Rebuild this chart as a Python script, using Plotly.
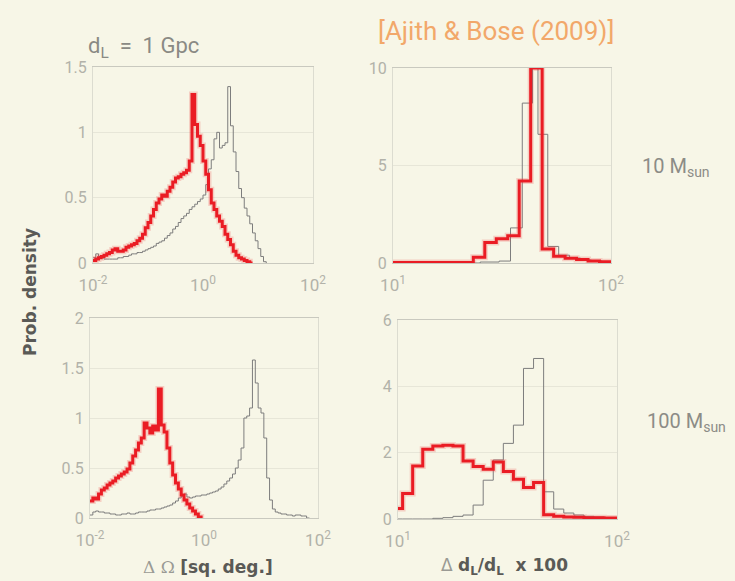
import plotly.graph_objects as go

# ---------------- data: histogram bin edges (log10 of x) and heights ----------------
# Top-left: sky-position error, 10 Msun
sky10_edges_start = -2.0
sky10_red = [0.02, 0.03, 0.04, 0.05, 0.06, 0.07, 0.08, 0.10, 0.11, 0.09,
             0.09, 0.10, 0.12, 0.13, 0.14, 0.15, 0.17, 0.19, 0.22, 0.27,
             0.31, 0.36, 0.41, 0.46, 0.49, 0.52, 0.51, 0.55, 0.58, 0.62,
             0.65, 0.66, 0.68, 0.69, 0.71, 0.78, 1.29, 1.06, 0.97, 0.90,
             0.78, 0.68, 0.56, 0.46, 0.41, 0.36, 0.32, 0.28, 0.22, 0.18,
             0.14, 0.09, 0.06, 0.04, 0.03, 0.02, 0.01, 0.0]
sky10_gray = [0.04, 0.07, 0.05, 0.04, 0.03, 0.03, 0.03, 0.03, 0.03, 0.04,
              0.04, 0.05, 0.05, 0.06, 0.07, 0.07, 0.08, 0.08, 0.09, 0.10,
              0.11, 0.12, 0.13, 0.15, 0.16, 0.17, 0.19, 0.21, 0.23, 0.26,
              0.28, 0.31, 0.34, 0.36, 0.38, 0.41, 0.43, 0.45, 0.47, 0.49,
              0.52, 0.60, 0.72, 0.79, 0.95, 1.00, 0.88, 0.90, 0.92, 1.35,
              1.05, 0.85, 0.70, 0.57, 0.50, 0.42, 0.36, 0.30, 0.23, 0.17,
              0.11, 0.05, 0.01]

# Top-right: distance error, 10 Msun
dist10_red_edges = [1.0, 1.0526, 1.1053, 1.1579, 1.2105, 1.2632, 1.3158, 1.3684,
                    1.4211, 1.4737, 1.5263, 1.5789, 1.6316, 1.6842, 1.7368,
                    1.7895, 1.8421, 1.8947, 1.9474, 2.0]
dist10_red = [0.02, 0.02, 0.02, 0.02, 0.02, 0.02, 0.02, 0.30, 1.05, 1.25,
              1.40, 4.20, 10.0, 0.72, 0.34, 0.25, 0.18, 0.10, 0.06]
dist10_gray_edges = [1.0, 1.40, 1.487, 1.539, 1.593, 1.640, 1.665, 1.710, 1.760,
                     1.810, 1.860, 1.910, 1.960, 2.0]
dist10_gray = [0.0, 0.05, 0.10, 1.8, 8.2, 10.0, 6.6, 0.85, 0.40, 0.25, 0.15,
               0.10, 0.05]

# Bottom-left: sky-position error, 100 Msun
sky100_edges_start = -2.0
sky100_red = [0.17, 0.20, 0.19, 0.24, 0.28, 0.30, 0.33, 0.35, 0.37, 0.40,
              0.42, 0.44, 0.46, 0.49, 0.55, 0.62, 0.68, 0.75, 0.80, 0.95,
              0.90, 0.85, 0.92, 0.88, 1.29, 0.93, 0.86, 0.70, 0.55, 0.43,
              0.35, 0.29, 0.23, 0.18, 0.14, 0.10, 0.07, 0.04, 0.01]
sky100_gray = [0.03, 0.06, 0.07, 0.06, 0.06, 0.05, 0.05, 0.04, 0.04, 0.03,
               0.03, 0.04, 0.04, 0.05, 0.04, 0.04, 0.05, 0.06, 0.06, 0.06,
               0.07, 0.08, 0.08, 0.09, 0.09, 0.10, 0.11, 0.12, 0.13, 0.15,
               0.17, 0.20, 0.22, 0.24, 0.21, 0.20, 0.21, 0.22, 0.22, 0.23,
               0.23, 0.24, 0.25, 0.26, 0.27, 0.29, 0.31, 0.34, 0.37, 0.40,
               0.44, 0.50, 0.58, 0.70, 1.00, 1.02, 1.10, 1.58, 1.35, 1.10,
               1.05, 0.80, 0.40, 0.18, 0.09, 0.06, 0.05, 0.04, 0.04, 0.03,
               0.03, 0.02, 0.03, 0.03, 0.02, 0.02, 0.0]

# Bottom-right: distance error, 100 Msun
dist100_edges = [0.975, 1.021, 1.067, 1.113, 1.159, 1.205, 1.251, 1.297, 1.343,
                 1.389, 1.435, 1.481, 1.527, 1.573, 1.619, 1.665, 1.711, 1.757,
                 1.803, 1.849, 1.895, 1.941, 1.987, 2.033]
dist100_red = [0.32, 0.77, 1.60, 2.10, 2.20, 2.22, 2.20, 1.75, 1.58, 1.50,
               1.72, 1.43, 1.20, 0.95, 1.10, 0.13, 0.08, 0.06, 0.05, 0.04,
               0.04, 0.03, 0.03]
dist100_gray = [0.0, 0.0, 0.0, 0.0, 0.02, 0.04, 0.08, 0.12, 0.42, 1.17,
                1.78, 2.28, 2.83, 4.54, 4.84, 0.82, 0.30, 0.18, 0.12, 0.08,
                0.06, 0.04, 0.03]

BIN_W = 0.05  # log10 width of the fine sky-area bins

# ---------------- styling ----------------
BG = "#f7f6e7"
RED = "rgb(234,28,36)"
GRAY = "#7d7d7d"
TICK = "#b2b2a9"
FONT = "Roboto"
BOLD = "DejaVu Sans"
NB = "\u00a0"

fig = go.Figure()


def stairs(edges, heights):
    """Turn bin edges (log10) and heights into a step outline."""
    xs = [10 ** e for e in edges[:len(heights)]] + [10 ** edges[len(heights)]]
    ys = list(heights) + [0.0]
    return xs, ys


def uniform_edges(start, n):
    return [round(start + BIN_W * i, 4) for i in range(n + 1)]


def add_pair(idx, red_xy, gray_xy):
    ax = "" if idx == 1 else str(idx)
    gx, gy = gray_xy
    fig.add_trace(go.Scatter(x=gx, y=gy, mode="lines", line_shape="hv",
                             line=dict(color=GRAY, width=1),
                             xaxis="x" + ax, yaxis="y" + ax,
                             showlegend=False, hoverinfo="skip"))
    rx, ry = red_xy
    # soft halo under the thick red outline
    fig.add_trace(go.Scatter(x=rx, y=ry, mode="lines", line_shape="hv",
                             line=dict(color="rgba(240,70,70,0.22)", width=6),
                             xaxis="x" + ax, yaxis="y" + ax,
                             showlegend=False, hoverinfo="skip"))
    fig.add_trace(go.Scatter(x=rx, y=ry, mode="lines", line_shape="hv",
                             line=dict(color=RED, width=3),
                             xaxis="x" + ax, yaxis="y" + ax,
                             showlegend=False, hoverinfo="skip"))


add_pair(1,
         stairs(uniform_edges(sky10_edges_start, len(sky10_red)), sky10_red),
         stairs(uniform_edges(sky10_edges_start, len(sky10_gray)), sky10_gray))
add_pair(2,
         stairs(dist10_red_edges, dist10_red),
         stairs(dist10_gray_edges, dist10_gray))
add_pair(3,
         stairs(uniform_edges(sky100_edges_start, len(sky100_red)), sky100_red),
         stairs(uniform_edges(sky100_edges_start, len(sky100_gray)), sky100_gray))
add_pair(4,
         stairs(dist100_edges, dist100_red),
         stairs(dist100_edges, dist100_gray))

W, H = 735, 581


def xdom(a, b):
    return [a / W, b / W]


def ydom(top, bottom):
    return [1 - bottom / H, 1 - top / H]


def xaxis(dom, rng, vals, texts, anchor):
    return dict(type="log", domain=dom, range=rng, anchor=anchor,
                tickvals=vals, ticktext=texts, showgrid=False,
                showline=True, linecolor="#c9c9bf", linewidth=1, mirror=True,
                ticks="", ticklabelstandoff=7, automargin=False,
                tickfont=dict(family=FONT, size=17, color=TICK),
                zeroline=False, fixedrange=True)


def yaxis(dom, rng, vals, texts, anchor):
    return dict(domain=dom, range=rng, anchor=anchor,
                tickvals=vals, ticktext=texts, showgrid=True,
                gridcolor="#e7e6d8", gridwidth=1,
                showline=True, linecolor="#dcdcd0", linewidth=1, mirror=True,
                ticks="", ticklabelstandoff=2, automargin=False,
                tickfont=dict(family=FONT, size=16, color=TICK),
                zeroline=False, fixedrange=True)


sky_ticks = ([0.01, 1, 100], ["10<sup>-2</sup>", "10<sup>0</sup>", "10<sup>2</sup>"])
dist_ticks = ([10, 100], ["10<sup>1</sup>", "10<sup>2</sup>"])

fig.update_layout(
    width=W, height=H,
    margin=dict(l=0, r=0, t=0, b=0),
    paper_bgcolor=BG, plot_bgcolor=BG,
    font=dict(family=FONT),
    xaxis=xaxis(xdom(93, 313), [-2, 2], *sky_ticks, "y"),
    yaxis=yaxis(ydom(67, 263), [0, 1.5], [0, 0.5, 1, 1.5],
                ["0", "0.5", "1", "1.5"], "x"),
    xaxis2=xaxis(xdom(393, 611), [1, 2], *dist_ticks, "y2"),
    yaxis2=yaxis(ydom(68, 263), [0, 10], [0, 5, 10], ["0", "5", "10"], "x2"),
    xaxis3=xaxis(xdom(90, 318), [-2, 2], *sky_ticks, "y3"),
    yaxis3=yaxis(ydom(318, 518), [0, 2], [0, 0.5, 1, 1.5, 2],
                 ["0", "0.5", "1", "1.5", "2"], "x3"),
    xaxis4=xaxis(xdom(398, 617), [1, 2], *dist_ticks, "y4"),
    yaxis4=yaxis(ydom(320, 519), [0, 6], [0, 2, 4, 6],
                 ["0", "2", "4", "6"], "x4"),
)


def label(text, x, y, size, color, xanchor="center", angle=0, family=FONT):
    fig.add_annotation(text=text, x=x / W, y=1 - y / H, xref="paper",
                       yref="paper", showarrow=False, xanchor=xanchor,
                       yanchor="middle", textangle=angle,
                       font=dict(family=family, size=size, color=color))


label(f"d<sub>L</sub>{NB}{NB}={NB}{NB}1{NB}Gpc", 143, 48, 22, "#8a8a84")
label("[Ajith &amp; Bose (2009)]", 496, 31, 26, "#f2a86a")
label(f"10{NB}M<sub>sun</sub>", 640, 167, 20, "#8c8c86", xanchor="left")
label(f"100{NB}M<sub>sun</sub>", 645, 422, 20, "#8c8c86", xanchor="left")
label("<b>Prob. density</b>", 30, 292, 17, "#5a5a56", angle=-90, family=BOLD)
label("<span style='font-family:DejaVu Serif;color:#9a9a94'>\u0394 \u03a9</span>"
      " <b>[sq. deg.]</b>", 208, 567, 17, "#5a5a56", family=BOLD)
label(f"<span style='color:#9a9a94'>\u0394</span> <b>d<sub>L</sub>/d<sub>L</sub>{NB}{NB}x 100</b>",
      504, 566, 17, "#5a5a56", family=BOLD)

fig.write_html("out.html")
